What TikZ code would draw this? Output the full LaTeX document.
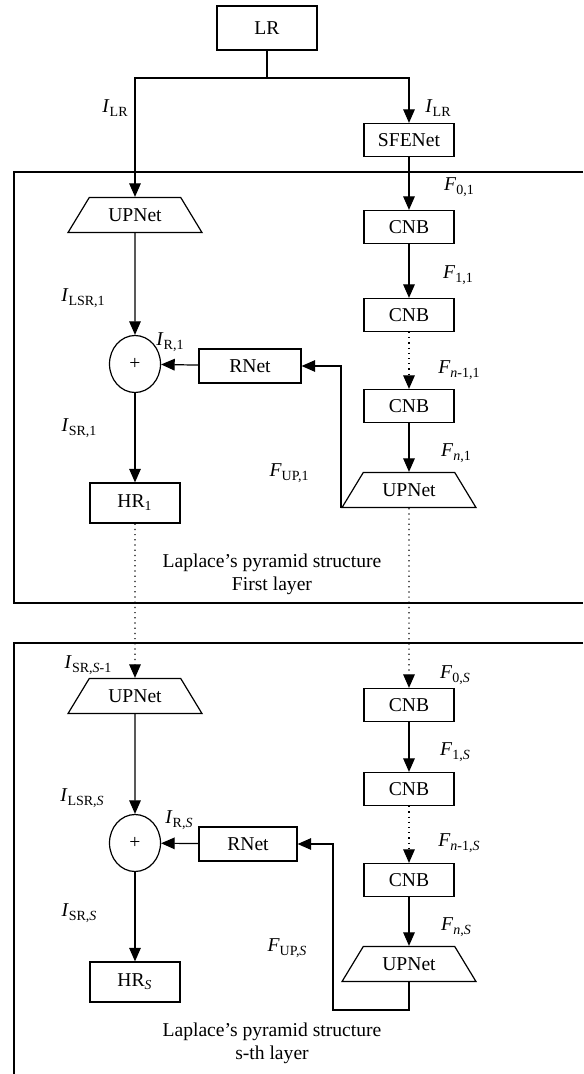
\documentclass[tikz,border=0pt]{standalone}
\usepackage{fontspec}
\setmainfont{Liberation Serif}
\usetikzlibrary{shapes.geometric,arrows.meta}

\newcommand{\lbl}[2]{\textit{#1}\raisebox{-0.45ex}{\fontsize{7}{8}\selectfont #2}}

\begin{document}
\begin{tikzpicture}[x=0.5pt, y=-0.5pt, line width=0.6pt,
    every node/.style={font=\fontsize{9.8}{11.5}\selectfont},
    box/.style={draw, rectangle, minimum width=45pt, minimum height=16.5pt, inner sep=1pt},
    upnet/.style={draw, trapezium, trapezium stretches=true, trapezium angle=52, minimum width=67pt, minimum height=17.5pt, inner sep=1pt},
    adder/.style={draw, ellipse, minimum width=25.5pt, minimum height=28.5pt, inner sep=0pt},
    arr/.style={-{Triangle[length=6.8pt,width=5.8pt]}},
    frame/.style={line width=0.75pt}]
    \useasboundingbox (0,0) rectangle (583,1074);

    % Input
    \node[box, minimum width=50pt, minimum height=22pt] (lr) at (267,28) {LR};
    \coordinate (split) at (267,78);
    \node[box] (sfe) at (409,140) {SFENet};
    \node (ilrA) at (115,108) {\lbl{I}{LR}};
    \node (ilrB) at (438,108) {\lbl{I}{LR}};

    % First layer
    \draw[frame] (583,172) -- (14,172) -- (14,603) -- (583,603);
    \node[upnet] (upA) at (135,215) {UPNet};
    \node[box] (cnbA1) at (409,227) {CNB};
    \node[box] (cnbA2) at (409,315) {CNB};
    \node[box] (cnbA3) at (409,406) {CNB};
    \node[upnet] (upRA) at (409,490) {UPNet};
    \node[adder] (addA) at (135,364) {+};
    \node[box, minimum width=51pt, minimum height=17pt] (rnetA) at (250,366) {RNet};
    \node[box, minimum height=20pt] (hrA) at (135,503) {HR\textsubscript{1}};
    \node (f01) at (459,187) {\lbl{F}{0,1}};
    \node (f11) at (458,275) {\lbl{F}{1,1}};
    \node (fn11) at (459,370) {\lbl{F}{\textit{n}-1,1}};
    \node (fn1) at (456,453) {\lbl{F}{\textit{n},1}};
    \node (ilsrA) at (83,298) {\lbl{I}{LSR,1}};
    \node (irA) at (170,342) {\lbl{I}{R,1}};
    \node (isrA) at (79,428) {\lbl{I}{SR,1}};
    \node (fupA) at (289,473) {\lbl{F}{UP,1}};
    \node[align=center] (capA) at (272,574) {Laplace’s pyramid structure\\First layer};

    % s-th layer
    \draw[frame] (583,643) -- (14,643) -- (14,1074);
    \node[upnet] (upB) at (135,696) {UPNet};
    \node[box] (cnbB1) at (409,705) {CNB};
    \node[box] (cnbB2) at (409,789) {CNB};
    \node[box] (cnbB3) at (409,880) {CNB};
    \node[upnet] (upRB) at (409,964) {UPNet};
    \node[adder] (addB) at (135,843) {+};
    \node[box, minimum width=49pt, minimum height=17pt] (rnetB) at (248,844) {RNet};
    \node[box, minimum height=20pt] (hrB) at (135,982) {HR\textsubscript{\textit{S}}};
    \coordinate (back) at (333,1010);
    \node (isrS1) at (88,665) {\lbl{I}{SR,\textit{S}-1}};
    \node (f0S) at (455,675) {\lbl{F}{0,\textit{S}}};
    \node (f1S) at (455,752) {\lbl{F}{1,\textit{S}}};
    \node (fn1S) at (459,843) {\lbl{F}{\textit{n}-1,\textit{S}}};
    \node (fnS) at (456,927) {\lbl{F}{\textit{n},\textit{S}}};
    \node (ilsrB) at (82,798) {\lbl{I}{LSR,\textit{S}}};
    \node (irB) at (179,820) {\lbl{I}{R,\textit{S}}};
    \node (isrB) at (79,913) {\lbl{I}{SR,\textit{S}}};
    \node (fupB) at (287,948) {\lbl{F}{UP,\textit{S}}};
    \node[align=center] (capB) at (272,1043) {Laplace’s pyramid structure\\s-th layer};

    % Connectors
    \draw (lr) -- (split);
    \draw[arr] (split) -| (upA);
    \draw[arr] (split) -| (sfe);
    \draw[arr] (sfe) -- (cnbA1);
    \draw[arr] (cnbA1) -- (cnbA2);
    \draw[arr, dotted] (cnbA2) -- (cnbA3);
    \draw[arr] (cnbA3) -- (upRA);
    \draw[arr] (upA) -- (addA);
    \draw[arr] (rnetA) -- (addA);
    \draw[arr] (addA) -- (hrA);
    \draw[arr] (upRA.bottom left corner) |- (rnetA);
    \draw[arr, dotted] (hrA) -- (upB);
    \draw[arr, dotted] (upRA) -- (cnbB1);
    \draw[arr] (cnbB1) -- (cnbB2);
    \draw[arr, dotted] (cnbB2) -- (cnbB3);
    \draw[arr] (cnbB3) -- (upRB);
    \draw[arr] (upB) -- (addB);
    \draw[arr] (rnetB) -- (addB);
    \draw[arr] (addB) -- (hrB);
    \draw[arr] (upRB) |- (back) |- (rnetB);
\end{tikzpicture}
\end{document}
